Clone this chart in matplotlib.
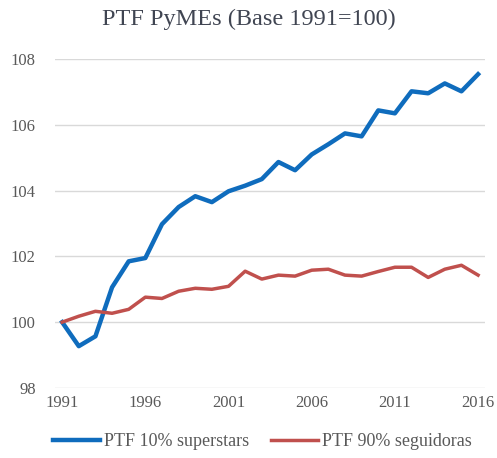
import matplotlib.pyplot as plt
import numpy as np

years = np.arange(1991, 2017)
superstars = [100.0, 99.27, 99.57, 101.06, 101.85, 101.95, 102.98, 103.5, 103.83, 103.65,
              103.98, 104.15, 104.35, 104.87, 104.62, 105.1, 105.41, 105.74, 105.65, 106.44,
              106.35, 107.02, 106.96, 107.26, 107.02, 107.54]
seguidoras = [100.0, 100.18, 100.33, 100.27, 100.39, 100.76, 100.72, 100.94, 101.03, 101.0,
              101.09, 101.55, 101.31, 101.43, 101.4, 101.58, 101.61, 101.43, 101.4, 101.54,
              101.67, 101.67, 101.36, 101.61, 101.73, 101.43]
yticks = [98, 100, 102, 104, 106, 108]
xticks = [1991, 1996, 2001, 2006, 2011, 2016]

plt.rcParams['font.family'] = ['Liberation Serif', 'DejaVu Serif']

fig = plt.figure(figsize=(4.97, 4.58), dpi=100)
ax = fig.add_axes([0.111, 0.153, 0.865, 0.718])

ax.plot(years, superstars, color='#0f6cbd', lw=3.2, label='PTF 10% superstars', solid_joinstyle='round')
ax.plot(years, seguidoras, color='#c0504d', lw=2.5, label='PTF 90% seguidoras', solid_joinstyle='round')

ax.set_ylim(98, 108)
ax.set_xlim(1990.58, 2016.42)
ax.set_yticks(yticks)
ax.set_xticks(xticks)
ax.grid(axis='y', color='#d9d9d9', lw=1.0)
ax.set_axisbelow(True)
for s in ax.spines.values():
    s.set_visible(False)
ax.tick_params(length=0, labelsize=12, labelcolor='#595959', pad=5)
ax.tick_params(axis='y', pad=14)

fig.suptitle('PTF PyMEs (Base 1991=100)', y=0.98, fontsize=17.5, color='#404552')
fig.legend(loc='lower center', bbox_to_anchor=(0.528, -0.018), ncol=2, frameon=False,
           fontsize=13, handlelength=2.6, handletextpad=0.25, columnspacing=1.2,
           labelcolor='#595959')

fig.savefig('out.png', dpi=100)
